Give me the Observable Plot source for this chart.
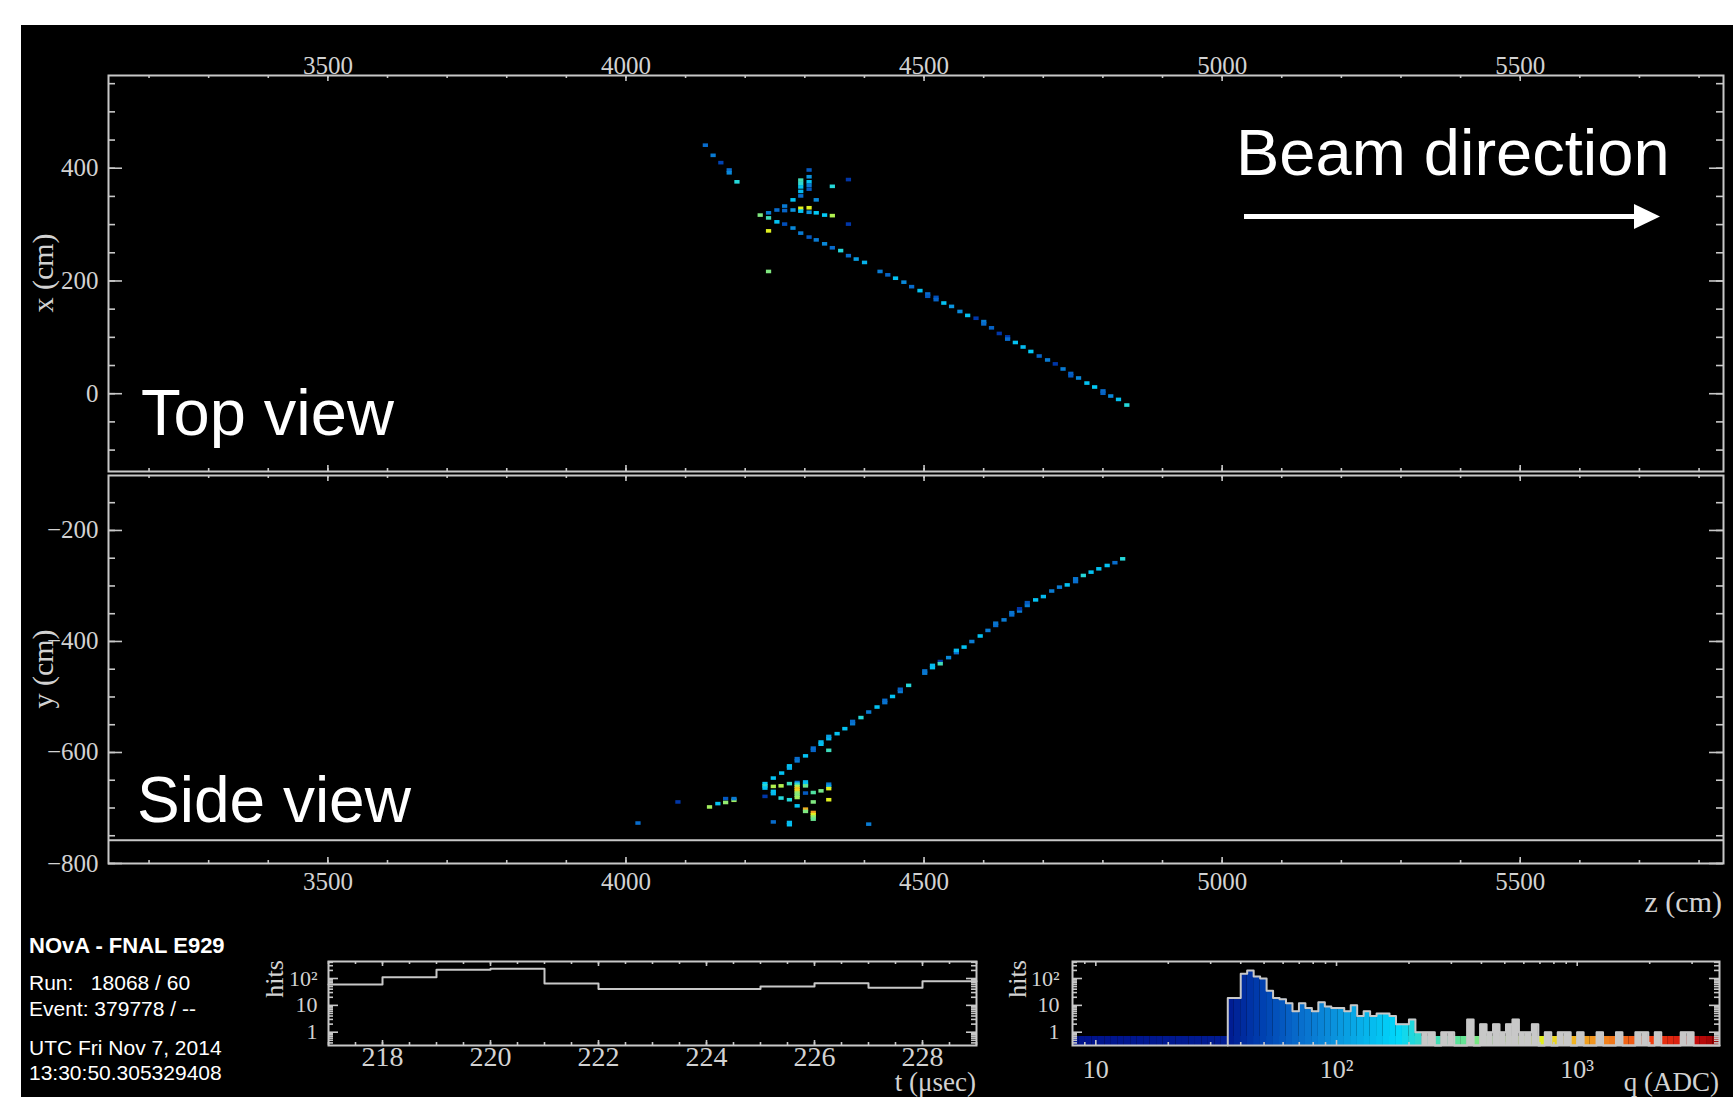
<!DOCTYPE html>
<html><head><meta charset="utf-8">
<script src="https://cdn.jsdelivr.net/npm/d3@7"></script>
<script src="https://cdn.jsdelivr.net/npm/@observablehq/plot@0.6"></script>
<style>
html,body{margin:0;padding:0;background:#fff;}
#page{position:relative;width:1733px;height:1097px;overflow:hidden;background:#fff;}
#bg{position:absolute;left:21px;top:25px;right:0;bottom:0;background:#000;}
.fig{position:absolute;left:0;}
</style></head><body><div id="page"><div id="bg"></div></div>
<script>
// ---------------- data ----------------
// top view hits: [z (cm), x (cm), charge q (ADC)]
const topViewHits = [
 [4134,440,70],[4147,422,80],[4160,409,50],[4174,396,70],[4174,391,90],[4187,375,210],
 [4226,316,400],[4240,320,80],[4240,311,260],[4240,288,700],[4240,216,400],
 [4254,325,70],[4254,304,150],[4267,332,80],[4267,324,65],[4267,300,55],
 [4281,343,150],[4281,325,100],[4281,293,90],
 [4294,378,260],[4294,372,220],[4294,366,150],[4294,358,140],[4294,350,70],[4294,328,700],[4294,323,150],[4294,284,80],
 [4308,396,60],[4308,384,100],[4308,375,150],[4308,369,80],[4308,362,60],[4308,329,700],[4308,321,100],[4308,277,60],
 [4320,343,90],[4320,320,160],[4320,272,80],[4334,316,160],[4334,265,90],
 [4347,367,210],[4347,315,550],[4347,258,70],[4361,253,210],
 [4374,379,45],[4374,300,45],[4374,244,70],[4387,238,110],[4401,232,130],
 [4427,216,80],[4440,210,65],[4453,204,150],[4467,197,90],[4480,189,70],[4494,182,150],
 [4507,176,70],[4507,172,60],[4521,170,55],[4521,166,65],[4534,160,150],[4547,154,100],
 [4561,145,90],[4574,138,150],[4588,133,45],[4601,127,80],[4601,123,70],[4614,116,65],
 [4627,106,45],[4641,100,45],[4641,96,70],[4654,90,150],[4667,82,140],[4680,74,160],
 [4694,66,65],[4708,59,80],[4721,52,45],[4734,43,80],[4747,35,65],[4747,31,60],
 [4760,27,90],[4774,18,150],[4787,11,160],[4801,4,70],[4801,0,65],[4814,-5,90],
 [4827,-11,150],[4841,-21,210]
];
// side view hits: [z (cm), y (cm), charge q (ADC)]
const sideViewHits = [
 [4248,-647,150],[4262,-638,150],[4275,-625,150],[4275,-629,130],[4288,-616,80],[4288,-612,70],
 [4302,-607,150],[4315,-597,65],[4315,-593,70],[4328,-586,150],[4328,-582,140],
 [4341,-576,140],[4341,-572,110],[4341,-597,250],[4355,-567,150],[4368,-558,150],
 [4381,-549,80],[4381,-545,70],[4395,-538,210],[4408,-528,80],[4422,-519,150],
 [4435,-511,75],[4435,-507,70],[4448,-500,150],[4461,-491,80],[4461,-487,65],[4475,-480,210],
 [4502,-458,80],[4502,-454,75],[4515,-448,150],[4515,-444,140],[4528,-437,45],[4528,-441,260],
 [4542,-430,90],[4555,-421,70],[4555,-417,140],[4568,-411,150],[4581,-401,80],[4595,-391,150],
 [4608,-381,80],[4621,-372,70],[4621,-368,75],[4635,-362,80],[4648,-353,70],[4648,-349,75],
 [4661,-346,80],[4661,-342,45],[4674,-336,80],[4674,-331,60],[4688,-326,150],[4701,-320,140],
 [4715,-310,80],[4728,-303,80],[4741,-299,150],[4755,-293,70],[4755,-288,75],[4768,-282,210],
 [4781,-276,150],[4794,-270,150],[4808,-264,150],[4821,-259,70],[4834,-252,210],
 [4021,-728,70],[4088,-690,45],[4141,-699,500],[4155,-693,150],[4168,-684,60],[4168,-691,450],
 [4182,-687,500],[4182,-684,80],
 [4234,-657,160],[4234,-661,220],[4234,-665,150],[4234,-680,45],
 [4248,-662,550],[4248,-671,150],[4248,-675,140],[4248,-726,70],
 [4261,-661,550],[4261,-683,210],
 [4275,-657,250],[4275,-686,210],[4275,-731,150],[4275,-727,140],
 [4288,-655,80],[4288,-658,220],[4288,-662,550],[4288,-666,900],[4288,-670,800],[4288,-674,450],[4288,-678,400],[4288,-682,500],[4288,-697,150],
 [4302,-654,140],[4302,-658,150],[4302,-661,350],[4302,-674,60],[4302,-703,1000],[4302,-707,400],
 [4315,-673,300],[4315,-690,400],[4315,-709,1100],[4315,-713,700],[4315,-717,450],[4315,-721,350],
 [4328,-670,380],[4341,-658,80],[4341,-662,110],[4341,-666,700],[4341,-686,700],[4408,-730,80]
];
const sideGuideY = [-758];

// timing histogram (1 usec bins)
const timeBinStart = [217,218,219,220,221,222,223,224,225,226,227,228];
const timeCounts   = [60,112,211,230,65,41,41,41,50,67,45,79];

// charge histogram: 100 log bins between qRange
const qRange = [8, 3900];
const qCounts = [
 0,0,0,0,0,0,0,0,0,0, 0,0,0,0,0,0,0,0,0,0, 0,0,0,0,
 19,19,150,200,120,100,35,19,17,12,6,12,8,6,13,9,8,8,6,10,4,6,4,5,5,4,2,2,3,1,
 1,1,0,1,1,0,0,3,0,2,1,2,1,2,3,1,1,2,0,1,0,1,1,0,1,0,0,1,0,0,1,0,0,1,1,0,1,0,0,0,1,1,0,0,0,0
];

// axis ticks / labels
const zMajor = [3500,4000,4500,5000,5500];
const zMinor = d3.range(3200,5801,100);
const xTopMajor = [0,200,400];
const xTopMinor = d3.range(-100,551,50);
const ySideMajor = [-800,-600,-400,-200];
const ySideMinor = d3.range(-800,-101,50);
const tMajor = [218,220,222,224,226,228];
const tMinor = d3.range(217,229.01,0.5);
const hitsMajor = [1,10,100];
const hitsMinor = [0.4,0.5,0.6,0.7,0.8,0.9,2,3,4,5,6,7,8,9,20,30,40,50,60,70,80,90,200,300,400];
const hitsLabels = {1:"1",10:"10",100:"10²"};
const qMajor = [10,100,1000];
const qMinor = [9,20,30,40,50,60,70,80,90,200,300,400,500,600,700,800,900,2000,3000];
const qLabels = {10:"10",100:"10²",1000:"10³"};

// colour palette (charge -> colour)
const paletteQ = [8,36,50,70,100,150,180,220,300,400,550,700,900,1200,2000,3000,3900];
const paletteC = ["#00128c","#001c92","#0042b2","#086ccc","#0a94de","#04c2f2","#00d8fc","#30d8d0","#50e0a0","#80e880","#b0f050","#e0f020","#f0c020","#f09020","#f04010","#d01010","#900000"];

// ---------------- styling ----------------
const SERIF = '"Liberation Serif","Times New Roman",serif';
const SANS = '"Liberation Sans",Arial,Helvetica,sans-serif';
const FRAME = "#c8c8c8";
const TXT = "#d2d2d2";
const W = 1733;
const fmtInt = d3.format("d");
const colorOpts = {type:"log", domain: paletteQ, range: paletteC, clamp:true};
const page = document.getElementById("page");
function place(el, top){ const d=document.createElement("div"); d.className="fig"; d.style.top=top+"px"; d.appendChild(el); page.appendChild(d); }

function tickMarks(o){
  const m=[]; const sw=1.6;
  const xs = (arr,len)=>[
    Plot.ruleX(arr,{x:d=>d, insetBottom:o.h-len, stroke:FRAME, strokeWidth:sw}),
    Plot.ruleX(arr,{x:d=>d, insetTop:o.h-len, stroke:FRAME, strokeWidth:sw})];
  const ys = (arr,len)=>[
    Plot.ruleY(arr,{y:d=>d, insetRight:o.w-len, stroke:FRAME, strokeWidth:sw}),
    Plot.ruleY(arr,{y:d=>d, insetLeft:o.w-len, stroke:FRAME, strokeWidth:sw})];
  m.push(...xs(o.xMinor,o.xMinLen), ...xs(o.xMajor,o.xMajLen), ...ys(o.yMinor,o.yMinLen), ...ys(o.yMajor,o.yMajLen));
  return m;
}
const CZ = 4.4, CX = 3.2; // half cell size (cm)

// ---------------- top view ----------------
{
  const mt=75, mb=9, ml=108, mr=10, H=480;
  const p = Plot.plot({
    width:W, height:H, marginTop:mt, marginBottom:mb, marginLeft:ml, marginRight:mr,
    style:{background:"transparent", color:TXT, fontFamily:SERIF, overflow:"visible"},
    x:{domain:[3132,5841], axis:null}, y:{domain:[-138,564.5], axis:null},
    color: colorOpts,
    marks:[
      Plot.rect(topViewHits,{x1:d=>d[0]-CZ, x2:d=>d[0]+CZ, y1:d=>d[1]-CX, y2:d=>d[1]+CX, fill:d=>d[2]}),
      ...tickMarks({w:W-ml-mr, h:H-mt-mb, xMajor:zMajor, xMinor:zMinor, yMajor:xTopMajor, yMinor:xTopMinor, xMajLen:6, xMinLen:3, yMajLen:14, yMinLen:7}),
      Plot.axisX(zMajor,{anchor:"top", tickSize:0, tickPadding:2, fontSize:25, fill:TXT, label:null, tickFormat:fmtInt}),
      Plot.axisY(xTopMajor,{anchor:"left", tickSize:0, tickPadding:10, fontSize:25, fill:TXT, label:null, tickFormat:fmtInt}),
      Plot.frame({stroke:FRAME, strokeWidth:2})
    ]
  });
  place(p,0);
}
// ---------------- side view ----------------
{
  const top=466, mt=9, mb=34, ml=108, mr=10, H=431;
  const p = Plot.plot({
    width:W, height:H, marginTop:mt, marginBottom:mb, marginLeft:ml, marginRight:mr,
    style:{background:"transparent", color:TXT, fontFamily:SERIF, overflow:"visible"},
    x:{domain:[3132,5841], axis:null}, y:{domain:[-800,-101], axis:null},
    color: colorOpts,
    marks:[
      Plot.ruleY(sideGuideY,{y:d=>d, stroke:FRAME, strokeWidth:2}),
      Plot.rect(sideViewHits,{x1:d=>d[0]-CZ, x2:d=>d[0]+CZ, y1:d=>d[1]-CX, y2:d=>d[1]+CX, fill:d=>d[2]}),
      ...tickMarks({w:W-ml-mr, h:H-mt-mb, xMajor:zMajor, xMinor:zMinor, yMajor:ySideMajor, yMinor:ySideMinor, xMajLen:6, xMinLen:3, yMajLen:14, yMinLen:7}),
      Plot.axisX(zMajor,{anchor:"bottom", tickSize:0, tickPadding:9, fontSize:25, fill:TXT, label:null, tickFormat:fmtInt}),
      Plot.axisY(ySideMajor,{anchor:"left", tickSize:0, tickPadding:10, fontSize:25, fill:TXT, label:null, tickFormat:fmtInt}),
      Plot.frame({stroke:FRAME, strokeWidth:2})
    ]
  });
  place(p,top);
}
// ---------------- time histogram ----------------
const YMIN = 0.32, YMAX = 430;
{
  const top=940, mt=21, mb=52, ml=328, mr=W-976, H=157;
  const pts = timeBinStart.map((t,i)=>({t, c:timeCounts[i]}));
  pts.push({t: timeBinStart[timeBinStart.length-1]+1, c: timeCounts[timeCounts.length-1]});
  const p = Plot.plot({
    width:W, height:H, marginTop:mt, marginBottom:mb, marginLeft:ml, marginRight:mr,
    style:{background:"transparent", color:TXT, fontFamily:SERIF, overflow:"visible"},
    x:{domain:[217,229], axis:null}, y:{type:"log", domain:[YMIN,YMAX], axis:null},
    marks:[
      Plot.line(pts,{x:"t", y:"c", curve:"step-after", stroke:FRAME, strokeWidth:2}),
      ...tickMarks({w:W-ml-mr, h:H-mt-mb, xMajor:tMajor, xMinor:tMinor, yMajor:hitsMajor, yMinor:hitsMinor, xMajLen:5, xMinLen:3, yMajLen:10, yMinLen:5}),
      Plot.axisX(tMajor,{anchor:"bottom", tickSize:0, tickPadding:1, fontSize:28, fill:TXT, label:null}),
      Plot.axisY(hitsMajor,{anchor:"left", tickSize:0, tickPadding:11, fontSize:22, fill:TXT, label:null, tickFormat:d=>hitsLabels[d]}),
      Plot.frame({stroke:FRAME, strokeWidth:2})
    ]
  });
  place(p,top);
}
// ---------------- charge histogram ----------------
{
  const top=940, mt=21, mb=52, ml=1072, mr=W-1719, H=157;
  const N = qCounts.length, lr = Math.log(qRange[1]/qRange[0]);
  const edge = i => qRange[0]*Math.exp(lr*i/N);
  const bins = qCounts.map((c,i)=>({lo:edge(i), hi:edge(i+1), mid:Math.sqrt(edge(i)*edge(i+1)), c}));
  const first = bins.findIndex(b=>b.c>0);
  const filled = bins.filter(b=>b.c>0 && b.mid<230);
  const grey = bins.filter(b=>b.c>0 && b.mid>=230);
  const outline = [{q:bins[first].lo, c:YMIN}];
  for (let i=first;i<N;i++) outline.push({q:bins[i].lo, c:Math.max(bins[i].c, YMIN)});
  outline.push({q:bins[N-1].hi, c:YMIN});
  const innerH = H-mt-mb;
  const p = Plot.plot({
    width:W, height:H, marginTop:mt, marginBottom:mb, marginLeft:ml, marginRight:mr,
    style:{background:"transparent", color:TXT, fontFamily:SERIF, overflow:"visible"},
    x:{type:"log", domain:qRange, axis:null}, y:{type:"log", domain:[YMIN,YMAX], axis:null},
    color: colorOpts,
    marks:[
      Plot.rect(bins,{x1:"lo", x2:"hi", insetTop:innerH-9, fill:"mid"}),
      Plot.rect(filled,{x1:"lo", x2:"hi", y1:()=>YMIN, y2:"c", fill:"mid"}),
      Plot.rect(grey,{x1:"lo", x2:"hi", y1:()=>YMIN, y2:"c", fill:FRAME}),
      Plot.line(outline,{x:"q", y:"c", curve:"step-after", stroke:FRAME, strokeWidth:2}),
      ...tickMarks({w:W-ml-mr, h:innerH, xMajor:qMajor, xMinor:qMinor, yMajor:hitsMajor, yMinor:hitsMinor, xMajLen:5, xMinLen:3, yMajLen:10, yMinLen:5}),
      Plot.axisX(qMajor,{anchor:"bottom", tickSize:0, tickPadding:14, fontSize:26, fill:TXT, label:null, tickFormat:d=>qLabels[d]}),
      Plot.axisY(hitsMajor,{anchor:"left", tickSize:0, tickPadding:13, fontSize:22, fill:TXT, label:null, tickFormat:d=>hitsLabels[d]}),
      Plot.frame({stroke:FRAME, strokeWidth:2})
    ]
  });
  place(p,top);
}
// ---------------- annotations ----------------
{
  const ns="http://www.w3.org/2000/svg";
  const s=document.createElementNS(ns,"svg");
  s.setAttribute("width",W); s.setAttribute("height",1097);
  s.style.position="absolute"; s.style.left="0"; s.style.top="0"; s.style.pointerEvents="none";
  const t=(txt,x,y,o={})=>{const e=document.createElementNS(ns,"text"); e.textContent=txt;
    e.setAttribute("x",x); e.setAttribute("y",y); e.setAttribute("fill",o.fill||"#fff");
    e.setAttribute("font-family",o.ff||SANS); e.setAttribute("font-size",o.fs||20);
    e.style.whiteSpace="pre";
    if(o.fw) e.setAttribute("font-weight",o.fw); if(o.anchor) e.setAttribute("text-anchor",o.anchor);
    if(o.rot){e.setAttribute("transform",`rotate(-90 ${x} ${y})`); e.setAttribute("dominant-baseline","central");}
    s.appendChild(e);};
  t("Top view",141,435,{fs:65});
  t("Side view",137,822,{fs:64});
  t("Beam direction",1236,175,{fs:65});
  const ln=document.createElementNS(ns,"line"); ln.setAttribute("x1",1244); ln.setAttribute("x2",1636);
  ln.setAttribute("y1",216.5); ln.setAttribute("y2",216.5); ln.setAttribute("stroke","#fff"); ln.setAttribute("stroke-width",5); s.appendChild(ln);
  const pg=document.createElementNS(ns,"polygon"); pg.setAttribute("points","1634,204 1660,216.5 1634,229"); pg.setAttribute("fill","#fff"); s.appendChild(pg);
  t("NOvA - FNAL E929",29,953,{fs:22,fw:"bold"});
  t("Run:   18068 / 60",29,990,{fs:21});
  t("Event: 379778 / --",29,1016,{fs:21});
  t("UTC Fri Nov 7, 2014",29,1055,{fs:21});
  t("13:30:50.305329408",29,1080,{fs:21});
  t("x (cm)",42,273,{ff:SERIF,fs:30,fill:TXT,anchor:"middle",rot:true});
  t("y (cm)",42,669,{ff:SERIF,fs:30,fill:TXT,anchor:"middle",rot:true});
  t("z (cm)",1722,912,{ff:SERIF,fs:30,fill:TXT,anchor:"end"});
  t("hits",274,979,{ff:SERIF,fs:26,fill:TXT,anchor:"middle",rot:true});
  t("hits",1017,979,{ff:SERIF,fs:26,fill:TXT,anchor:"middle",rot:true});
  t("t (\u03bcsec)",976,1091,{ff:SERIF,fs:27,fill:TXT,anchor:"end"});
  t("q (ADC)",1719,1091,{ff:SERIF,fs:27,fill:TXT,anchor:"end"});
  page.appendChild(s);
}
</script></body></html>
